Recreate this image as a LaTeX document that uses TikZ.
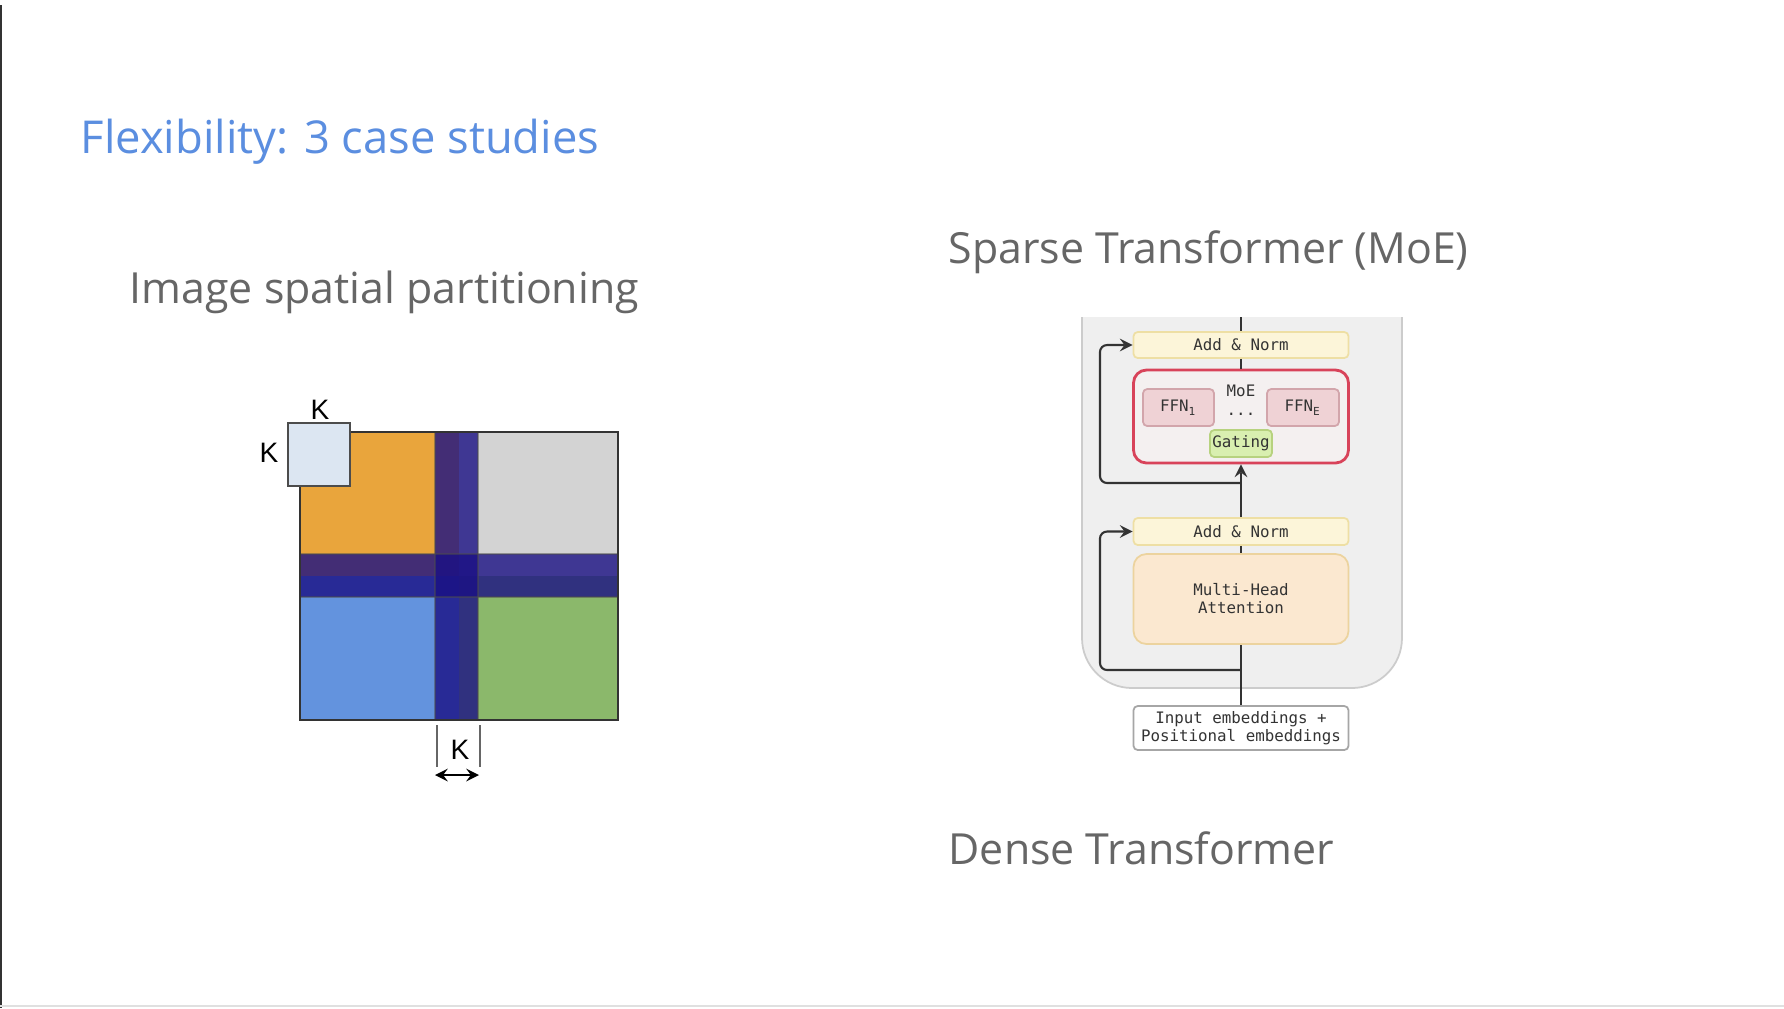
\documentclass[tikz,border=0pt]{standalone}
\usepackage{fontspec}
\usepackage{tikz}
\usepackage{xcolor}
\usetikzlibrary{shapes.geometric, arrows}
\setmainfont{Open Sans}
\newfontfamily\kfont{Liberation Sans}
\newfontfamily\codefont{DejaVu Sans Mono}
\definecolor{titleblue}{HTML}{5B8EE0}
\definecolor{headgray}{HTML}{666666}
\definecolor{orangeq}{HTML}{E9A53C}
\definecolor{grayq}{HTML}{D3D3D3}
\definecolor{blueq}{HTML}{6393DE}
\definecolor{greenq}{HTML}{8BB86B}
\definecolor{navyband}{HTML}{1A1084}
\definecolor{kbox}{HTML}{DCE6F2}
\definecolor{panelgray}{HTML}{EFEFEF}
\definecolor{normfill}{HTML}{FCF5D9}
\definecolor{normdraw}{HTML}{EEDFA4}
\definecolor{moedraw}{HTML}{D8435A}
\definecolor{moefill}{HTML}{F4F0F0}
\definecolor{ffnfill}{HTML}{EFD2D5}
\definecolor{ffndraw}{HTML}{D2A5AB}
\definecolor{gatefill}{HTML}{D9EFB0}
\definecolor{gatedraw}{HTML}{B7D27F}
\definecolor{attnfill}{HTML}{FBE8D0}
\definecolor{attndraw}{HTML}{ECD39E}
\definecolor{linegray}{HTML}{333333}
\tikzstyle{heading} = [anchor=base west, inner sep=0pt, text=headgray, font=\fontsize{12.2}{15}\selectfont]
\tikzstyle{klabel} = [inner sep=0pt, font=\kfont\fontsize{8}{9}\selectfont]
\tikzstyle{block} = [rectangle, rounded corners=1.2pt, line width=0.5pt, inner sep=0pt, minimum width=21.5mm, text=linegray, align=center, font=\codefont\fontsize{4.5}{5.1}\selectfont]
\tikzstyle{line} = [line width=0.6pt, draw=linegray]
\tikzstyle{arrow} = [line width=0.6pt, ->, >=stealth, draw=linegray, rounded corners=2pt]

\begin{document}
\begin{tikzpicture}[x=0.1mm, y=-0.1mm]
    \useasboundingbox (0,0) rectangle (1784,1008);
    \fill[white] (0,0) rectangle (1784,1008);
    \draw[line width=0.6pt, linegray] (1,5) -- (1,1008);
    \draw[line width=0.4pt, black!12] (0,1006) -- (1784,1006);

    \node[heading, text=titleblue, font=\fontsize{12.9}{15}\selectfont] (title) at (80,153) {Flexibility: 3 case studies};
    \node[heading] (imghead) at (129,303) {Image spatial partitioning};
    \node[heading] (sparsehead) at (948,263) {Sparse Transformer (MoE)};
    \node[heading] (densehead) at (948,864) {Dense Transformer};

    % image split into four quadrants with halo bands
    \fill[orangeq] (300,432) rectangle (459,576);
    \fill[grayq] (459,432) rectangle (618,576);
    \fill[blueq] (300,576) rectangle (459,720);
    \fill[greenq] (459,576) rectangle (618,720);
    \fill[navyband, opacity=0.8] (435,432) rectangle (478,720);
    \fill[navyband, opacity=0.8] (300,554) rectangle (618,597);
    \draw[black!70, line width=0.3pt, opacity=0.5] (435,432) -- (435,720);
    \draw[black!70, line width=0.3pt, opacity=0.5] (478,432) -- (478,720);
    \draw[black!70, line width=0.3pt, opacity=0.5] (300,554) -- (618,554);
    \draw[black!70, line width=0.3pt, opacity=0.5] (300,597) -- (618,597);
    \draw[black!80, line width=0.5pt] (300,432) rectangle (618,720);

    \node[draw=black!70, fill=kbox, line width=0.5pt, minimum width=6.2mm, minimum height=6.3mm, inner sep=0pt] (win) at (319,454.5) {};
    \node[klabel] (ktop) at (320,410) {K};
    \node[klabel] (kleft) at (269,453) {K};
    \node[klabel] (kbot) at (460,750) {K};
    \draw[black!60, line width=0.5pt] (437,725) -- (437,767);
    \draw[black!60, line width=0.5pt] (480,725) -- (480,767);
    \coordinate (kl) at (435,775);
    \coordinate (kr) at (479,775);
    \draw[line width=0.6pt, <->, >=stealth] (kl) -- (kr);

    % transformer block
    \filldraw[fill=panelgray, draw=black!20, line width=0.5pt, rounded corners=5mm] (1082,317) -- (1082,688) -- (1402,688) -- (1402,317);

    \node[block, fill=normfill, draw=normdraw, minimum height=2.6mm] (an1) at (1241,345) {Add \& Norm};
    \node[block, fill=moefill, draw=moedraw, line width=0.8pt, rounded corners=1.3mm, minimum height=9.3mm] (moe) at (1241,416.5) {};
    \node[block, inner sep=0pt, minimum width=0pt] (moelabel) at (1241,391) {MoE};
    \node[block, fill=ffnfill, draw=ffndraw, minimum width=7.1mm, minimum height=3.7mm] (ffn1) at (1178.5,407.5) {FFN\textsubscript{1}};
    \node[block, fill=ffnfill, draw=ffndraw, minimum width=7.2mm, minimum height=3.7mm] (ffne) at (1303,407.5) {FFN\textsubscript{E}};
    \node[block, minimum width=0pt] (dots) at (1241,414) {...};
    \node[block, fill=gatefill, draw=gatedraw, minimum width=6.2mm, minimum height=2.7mm] (gate) at (1241,443.5) {Gating};
    \node[block, fill=normfill, draw=normdraw, minimum height=2.7mm] (an2) at (1241,531.5) {Add \& Norm};
    \node[block, fill=attnfill, draw=attndraw, rounded corners=1.3mm, minimum height=9mm] (mha) at (1241,599) {Multi-Head\\Attention};
    \node[block, fill=white, draw=black!35, minimum height=4.4mm] (inp) at (1241,728) {Input embeddings +\\Positional embeddings};

    \coordinate (top) at (1241,317);
    \coordinate (br1) at (1241,483);
    \coordinate (br2) at (1241,670);
    \draw[line] (top) -- (an1);
    \draw[line] (an1) -- (moe);
    \draw[arrow] (an2) -- (moe);
    \draw[line] (an2) -- (mha);
    \draw[line] (inp) -- (mha);
    \draw[arrow] (br1) -- ++(-141,0) |- (an1.west);
    \draw[arrow] (br2) -- ++(-141,0) |- (an2.west);
\end{tikzpicture}
\end{document}
